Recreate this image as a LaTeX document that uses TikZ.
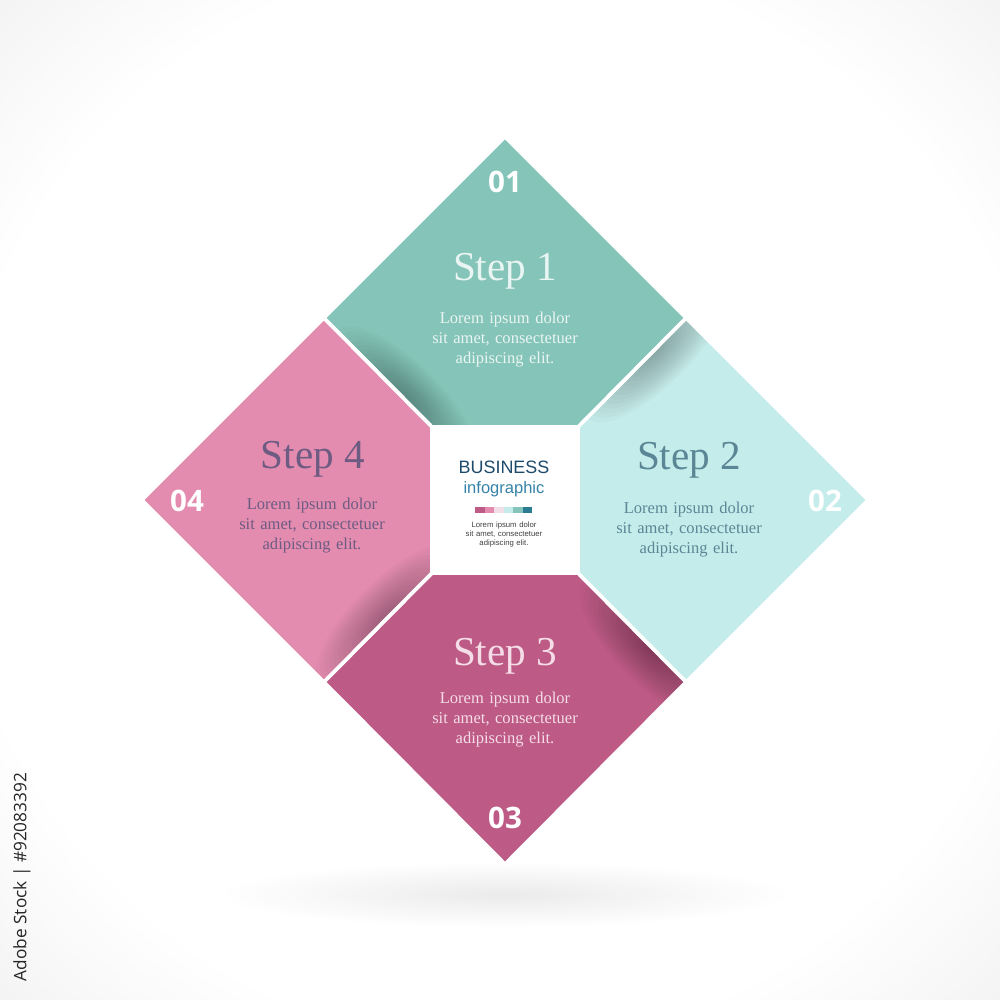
\documentclass[tikz,border=0pt]{standalone}
\usepackage{fontspec}
\setmainfont{Liberation Serif}
\newfontfamily\numfont{Open Sans}
\newfontfamily\bizfont{Liberation Sans}
\definecolor{stepA}{HTML}{85C4B8}
\definecolor{stepB}{HTML}{C4ECEA}
\definecolor{stepC}{HTML}{BD5A86}
\definecolor{stepD}{HTML}{E38CB0}
\definecolor{barL}{HTML}{F2DEE6}
\definecolor{barD}{HTML}{2C7A93}
\definecolor{txtA}{HTML}{E9F5F2}
\definecolor{txtB}{HTML}{5A8696}
\definecolor{txtC}{HTML}{F5DDE8}
\definecolor{txtD}{HTML}{6E5B82}
\definecolor{bizC}{HTML}{1E4A6B}
\definecolor{infoC}{HTML}{3583A8}
\pgfdeclareradialshading{paper}{\pgfpoint{0bp}{0bp}}{color(0bp)=(white); color(27bp)=(white); color(50bp)=(black!12)}
\begin{document}
\begin{tikzpicture}[x=0.01cm,y=-0.01cm,
                title/.style={anchor=base,inner sep=0pt,font=\fontsize{11.7}{14}\selectfont},
                body/.style={anchor=base,inner sep=0pt,align=center,text width=2cm,font=\fontsize{4.7}{5.7}\selectfont},
                num/.style={anchor=base,inner sep=0pt,white,font=\numfont\bfseries\fontsize{8.4}{10}\selectfont},
                gap/.style={draw=white,line width=1pt,line join=round}]
                \useasboundingbox (0,0) rectangle (1000,1000);
                \shade[shading=paper] (0,0) rectangle (1000,1000);
                % soft shadow below the diamond
                \foreach \r in {1,...,20}
                    \fill[black,opacity=0.0035] (505,895) ellipse ({14*\r} and {1.6*\r});
                \coordinate (T) at (505,137);
                \coordinate (R) at (868,500);
                \coordinate (B) at (505,864);
                \coordinate (L) at (142,500);
                \coordinate (TR) at (686,318);
                \coordinate (BR) at (686,682);
                \coordinate (BL) at (324,682);
                \coordinate (TL) at (324,318);
                \coordinate (c1) at (432,427);
                \coordinate (c2) at (578,427);
                \coordinate (c3) at (578,573);
                \coordinate (c4) at (432,573);
                \fill[stepA] (T) -- (TR) -- (c2) -- (c1) -- (TL) -- cycle;
                \fill[stepB] (TR) -- (R) -- (BR) -- (c3) -- (c2) -- cycle;
                \fill[stepC] (c4) -- (c3) -- (BR) -- (B) -- (BL) -- cycle;
                \fill[stepD] (TL) -- (c1) -- (c4) -- (BL) -- (L) -- cycle;
                \fill[white] (c1) -- (c2) -- (c3) -- (c4) -- cycle;
                % folded shadows
                \begin{scope}
                    \clip (T) -- (TR) -- (c2) -- (c1) -- (TL) -- cycle;
                    \foreach \r in {1,...,16}
                        \fill[black,opacity=0.02,rotate around={-45:(405,399)}] (405,399) ellipse ({6*\r} and {2.2*\r});
                \end{scope}
                \begin{scope}
                    \clip (TR) -- (R) -- (BR) -- (c3) -- (c2) -- cycle;
                    \foreach \r in {1,...,16}
                        \fill[black,opacity=0.018,rotate around={45:(655,350)}] (655,350) ellipse ({6*\r} and {2.2*\r});
                \end{scope}
                \begin{scope}
                    \clip (c4) -- (c3) -- (BR) -- (B) -- (BL) -- cycle;
                    \foreach \r in {1,...,16}
                        \fill[black,opacity=0.02,rotate around={-45:(652,649)}] (652,649) ellipse ({6*\r} and {2.2*\r});
                \end{scope}
                \begin{scope}
                    \clip (TL) -- (c1) -- (c4) -- (BL) -- (L) -- cycle;
                    \foreach \r in {1,...,16}
                        \fill[black,opacity=0.02,rotate around={45:(388,617)}] (388,617) ellipse ({6*\r} and {2.2*\r});
                \end{scope}
                \draw[gap] (T) -- (TR) -- (c2) -- (c1) -- (TL) -- cycle;
                \draw[gap] (TR) -- (R) -- (BR) -- (c3) -- (c2) -- cycle;
                \draw[gap] (c4) -- (c3) -- (BR) -- (B) -- (BL) -- cycle;
                \draw[gap] (TL) -- (c1) -- (c4) -- (BL) -- (L) -- cycle;
                % step texts
                \node[num](n1) at (505,192) {01};
                \node[title,txtA](s1t) at (505,280) {Step 1};
                \node[body,txtA](s1b) at (505,323) {Lorem ipsum dolor\\sit amet, consectetuer\\adipiscing elit.};
                \node[num](n2) at (825,511) {02};
                \node[title,txtB](s2t) at (689,469) {Step 2};
                \node[body,txtB](s2b) at (689,513) {Lorem ipsum dolor\\sit amet, consectetuer\\adipiscing elit.};
                \node[num](n3) at (505,828) {03};
                \node[title,txtC](s3t) at (505,665) {Step 3};
                \node[body,txtC](s3b) at (505,703) {Lorem ipsum dolor\\sit amet, consectetuer\\adipiscing elit.};
                \node[num](n4) at (187,511) {04};
                \node[title,txtD](s4t) at (313,468) {Step 4};
                \node[body,txtD](s4b) at (312,509) {Lorem ipsum dolor\\sit amet, consectetuer\\adipiscing elit.};
                % center
                \node[anchor=base,inner sep=0pt,bizC,font=\bizfont\fontsize{5.1}{6}\selectfont](biz) at (504,473) {BUSINESS};
                \node[anchor=base,inner sep=0pt,infoC,font=\bizfont\fontsize{4.7}{6}\selectfont](info) at (504,493) {infographic};
                \foreach \c [count=\i] in {stepC,stepD,barL,stepB,stepA,barD}
                    \fill[\c] ({465.5+9.5*\i},507) rectangle ++(9.5,6);
                \node[anchor=base,inner sep=0pt,align=center,text width=1cm,black!75,font=\bizfont\fontsize{2.2}{2.65}\selectfont](lor) at (504,527) {Lorem ipsum dolor\\sit amet, consectetuer\\adipiscing elit.};
                \node[rotate=90,inner sep=0pt,black!85,font=\numfont\fontsize{4.9}{6}\selectfont](ado) at (22,877) {Adobe Stock | \#92083392};
            \end{tikzpicture}
\end{document}
